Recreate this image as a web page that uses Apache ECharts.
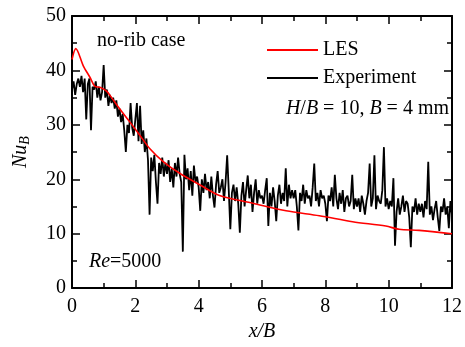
<!DOCTYPE html>
<html>
<head>
<meta charset="utf-8">
<script src="https://cdn.jsdelivr.net/npm/echarts@6/dist/echarts.min.js"></script>
<style>
  html, body { margin: 0; padding: 0; background: #fff; }
  #chart { width: 465px; height: 347px; }
  #err { position: absolute; left: 80px; top: 130px; font: 11px monospace; color: #00f; width: 360px; }
</style>
</head>
<body>
<div id="chart"></div>
<div id="err"></div>
<script>
window.onerror = function (m) { document.getElementById('err').textContent += ' ERR: ' + m; };

// LES curve (x/B, Nu_B)
var lesX = [0, 0.12, 0.36, 0.57, 0.72, 0.88, 1.09, 1.25, 1.51, 1.83, 2.14, 2.46, 2.87, 3.4, 4.03, 4.66, 5.71, 6.76, 7.81, 8.86, 9.91, 10.33, 10.96, 12];
var lesY = [42, 44, 40.8, 38.7, 37.1, 36.9, 36.2, 35.0, 32.9, 30.5, 28.1, 25.6, 23.3, 21.1, 19.0, 17.0, 15.6, 14.2, 13.3, 12.2, 11.4, 10.8, 10.6, 10.0];

// experiment, sampled every 0.05 x/B from 0 to 12
var expStep = 0.05;
var expY = [
  36.5, 38, 35.5, 37.5, 38.5, 37, 39, 36, 38.5, 31, 37.5, 38.5, 29, 37, 36.5, 38, 35, 37, 34.5, 36,
  41, 35, 36.5, 33.5, 35.5, 34, 35, 33, 34.5, 31.5, 33, 30.5, 32, 29, 25, 30, 28.5, 34, 29.5, 28,
  31, 34, 27, 33.5, 26.5, 29, 25, 27.5, 23.5, 13.5, 24, 21.5, 24.5, 19.5, 15.5, 23, 21, 24, 20.5, 23,
  21, 23.5, 19.5, 22, 18.5, 23, 20.5, 24, 21, 19.5, 6.7, 24.5, 20, 22, 18, 21.5, 17, 22.5, 19.5, 20.5,
  18.5, 14.2, 20, 17.5, 21, 18, 19.5, 16.5, 20.5, 17, 14.8, 19, 21.5, 17.5, 18.5, 20, 16, 19.5, 24.4, 18,
  10.8, 17.5, 19, 16, 18.5, 15.5, 10.2, 17, 19.5, 15, 18, 20.7, 16.5, 19, 14, 17.5, 20, 15.5, 18, 16.5,
  17, 15.5, 18, 20.2, 11.4, 17.5, 15, 18.5, 16, 12.3, 17, 19, 15.5, 17.5, 16, 22, 15, 19, 16.5, 18,
  16.5, 18, 15, 10.6, 17.5, 16, 19, 15.5, 18, 16.5, 17, 15, 18.5, 22.9, 16, 17.5, 15, 18, 16.5, 17,
  15.5, 12.3, 17, 16, 18.5, 15, 20.8, 16.5, 14.5, 17.5, 15.5, 18, 14, 16.5, 17, 15, 16, 20.8, 14.5, 16.5,
  15, 16.5, 14, 17, 15.5, 13.5, 16, 17.5, 22.9, 15, 16.5, 24.4, 14.5, 17, 16, 15.5, 18, 25.9, 15, 16.5,
  14.5, 16, 15, 20.2, 7.8, 14, 16.5, 13.5, 15, 17, 14, 16, 15.5, 13, 7.5, 15, 14, 16.5, 13.5, 15.5,
  14, 15.5, 13, 16, 14.5, 23.2, 13.5, 15, 12.5, 14.5, 16, 13, 10.5, 15, 14, 16.5, 13.5, 15, 11, 16,
  13.5
];

var xTicks = [0, 12, 2];
var yTicks = [0, 50, 10];

var FONT = 'Liberation Serif';

var lesData = lesX.map(function (x, i) { return [x, lesY[i]]; });
var expData = expY.map(function (y, i) { return [+(i * expStep).toFixed(2), y]; });

var chart = echarts.init(document.getElementById('chart'));

function axisBase(show) {
  return {
    show: true,
    axisLine: { show: true, onZero: false, lineStyle: { color: '#000', width: 2 } },
    axisTick: { show: true, inside: true, length: 8, lineStyle: { color: '#000', width: 1.5 } },
    minorTick: { show: true, splitNumber: 2, length: 5, lineStyle: { color: '#000', width: 1.5 } },
    splitLine: { show: false },
    axisLabel: { show: show, color: '#000', fontFamily: FONT, fontSize: 20 }
  };
}

var option = {
  animation: false,
  grid: { left: 72, top: 16, right: 12, bottom: 56 },
  legend: {
    orient: 'vertical',
    left: 262,
    top: 35,
    icon: 'rect',
    itemWidth: 51,
    itemHeight: 2,
    itemGap: 8,
    textStyle: { color: '#000', fontFamily: FONT, fontSize: 20, lineHeight: 20 },
    data: ['LES', 'Experiment']
  },
  xAxis: [
    Object.assign(axisBase(true), {
      type: 'value', position: 'bottom',
      min: xTicks[0], max: xTicks[1], interval: xTicks[2],
      name: 'x/B', nameLocation: 'middle', nameGap: 30,
      nameTextStyle: { color: '#000', fontFamily: FONT, fontSize: 20, fontStyle: 'italic' },
      axisLabel: { color: '#000', fontFamily: FONT, fontSize: 20, margin: 9 }
    }),
    Object.assign(axisBase(false), {
      type: 'value', position: 'top',
      min: xTicks[0], max: xTicks[1], interval: xTicks[2]
    })
  ],
  yAxis: [
    Object.assign(axisBase(true), {
      type: 'value', position: 'left',
      min: yTicks[0], max: yTicks[1], interval: yTicks[2],
      name: '{i|Nu}{s|B}', nameLocation: 'middle', nameGap: 40,
      nameTextStyle: {
        color: '#000', fontFamily: FONT, fontSize: 20,
        rich: {
          i: { fontFamily: FONT, fontSize: 20, fontStyle: 'italic', color: '#000' },
          s: { fontFamily: FONT, fontSize: 14, fontStyle: 'italic', color: '#000', padding: [8, 0, 0, 0] }
        }
      },
      axisLabel: { color: '#000', fontFamily: FONT, fontSize: 20, margin: 6 }
    }),
    Object.assign(axisBase(false), {
      type: 'value', position: 'right',
      min: yTicks[0], max: yTicks[1], interval: yTicks[2]
    })
  ],
  series: [
    {
      name: 'Experiment', type: 'line', xAxisIndex: 0, yAxisIndex: 0,
      data: expData, showSymbol: false, symbol: 'none',
      lineStyle: { color: '#000', width: 1.8 }, itemStyle: { color: '#000' }
    },
    {
      name: 'LES', type: 'line', xAxisIndex: 0, yAxisIndex: 0,
      data: lesData, showSymbol: false, symbol: 'none', smooth: 0.3,
      lineStyle: { color: '#ff0000', width: 1.6 }, itemStyle: { color: '#ff0000' }
    },
    {
      // invisible copy so the top/right frame axes get ticks
      name: 'frame', type: 'line', xAxisIndex: 1, yAxisIndex: 1,
      data: lesData, silent: true, showSymbol: false, symbol: 'none',
      lineStyle: { opacity: 0 }
    }
  ],
  graphic: [
    {
      type: 'text', left: 97, top: 31,
      style: { text: 'no-rib case', fill: '#000', fontFamily: FONT, fontSize: 20 }
    },
    {
      type: 'text', right: 16, top: 99,
      style: {
        text: '{i|H}/{i|B} = 10, {i|B} = 4 mm', fill: '#000', fontFamily: FONT, fontSize: 20,
        rich: { i: { fontFamily: FONT, fontSize: 20, fontStyle: 'italic', fill: '#000' } }
      }
    },
    {
      type: 'text', left: 89, top: 252,
      style: {
        text: '{i|Re}=5000', fill: '#000', fontFamily: FONT, fontSize: 20,
        rich: { i: { fontFamily: FONT, fontSize: 20, fontStyle: 'italic', fill: '#000' } }
      }
    }
  ]
};

try {
  chart.setOption(option);
} catch (e) {
  document.getElementById('err').textContent += ' CATCH: ' + e.message;
}
</script>
</body>
</html>
